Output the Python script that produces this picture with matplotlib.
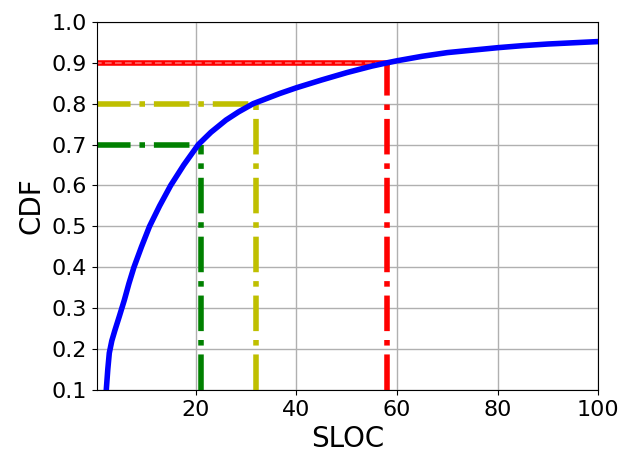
import matplotlib
matplotlib.use("Agg")
import matplotlib.pyplot as plt

# empirical CDF of lines of code per function
sloc = [2.2, 2.5, 2.8, 3.3, 3.9, 4.8, 5.8, 6.7, 7.7, 9.2, 10.8, 12.8, 15.0, 17.6,
        20.5, 23, 26, 28.5, 31.4, 36.7, 40, 45, 50, 55, 58, 60, 65, 70, 75, 80,
        85, 90, 95, 100]
cdf = [0.10, 0.15, 0.19, 0.22, 0.245, 0.28, 0.32, 0.36, 0.40, 0.45, 0.50, 0.55,
       0.60, 0.65, 0.70, 0.73, 0.76, 0.78, 0.80, 0.825, 0.839, 0.858, 0.876,
       0.892, 0.90, 0.905, 0.916, 0.925, 0.931, 0.937, 0.942, 0.946, 0.949, 0.952]

# percentile markers: (sloc, cdf, colour)
marks_x = [21, 32, 58]
marks_y = [0.7, 0.8, 0.9]
marks_c = ['g', 'y', 'r']

fig = plt.figure(figsize=(6.2, 4.57), dpi=100)
ax = fig.add_axes([0.156, 0.147, 0.809, 0.805])

ax.plot(sloc, cdf, color='b', linewidth=4, zorder=3)
for mx, my, c in zip(marks_x, marks_y, marks_c):
    if c == 'r':
        # the 90th percentile line is drawn twice and overlaps into a solid band
        ax.plot([0, mx], [my, my], color=c, linewidth=4, zorder=2)
        ax.plot([0, mx], [my, my], color='#ff6a6a', linewidth=1.2,
                dashes=(4, 2), zorder=2)
    else:
        ax.plot([0, mx], [my, my], linestyle='-.', color=c, linewidth=4, zorder=2)
    ax.plot([mx, mx], [0.1, my], linestyle='-.', color=c, linewidth=4, zorder=2)

ax.set_xlim(0.3, 100)
ax.set_ylim(0.1, 1.0)
ax.set_xticks([20, 40, 60, 80, 100])
ax.set_yticks([0.1 * i for i in range(1, 11)])
ax.set_yticklabels([f"{0.1 * i:.1f}" for i in range(1, 11)])
ax.tick_params(labelsize=16)
ax.set_xlabel("SLOC", fontsize=20)
ax.set_ylabel("CDF", fontsize=20)
ax.grid(True, color='#b0b0b0', linewidth=1)

fig.savefig("out.png", dpi=100)
